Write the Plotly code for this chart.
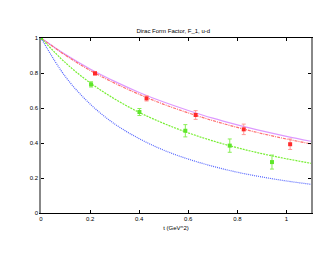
import plotly.graph_objects as go

# Curve samples
t_curve = [0.0, 0.1, 0.2, 0.3, 0.4, 0.5, 0.6, 0.7, 0.8, 0.9, 1.0, 1.1]
magenta_curve = [1.0, 0.905, 0.823, 0.752, 0.689, 0.634, 0.586, 0.542, 0.504, 0.469, 0.438, 0.410]
red_curve = [1.0, 0.901, 0.815, 0.742, 0.678, 0.621, 0.572, 0.528, 0.489, 0.454, 0.423, 0.395]
green_curve = [1.0, 0.858, 0.744, 0.652, 0.575, 0.512, 0.458, 0.412, 0.373, 0.339, 0.310, 0.284]
blue_curve = [1.0, 0.778, 0.623, 0.509, 0.425, 0.359, 0.308, 0.267, 0.233, 0.206, 0.183, 0.164]

# Data points
red_t = [0.0, 0.22, 0.43, 0.63, 0.826, 1.015]
red_f = [1.0, 0.798, 0.655, 0.56, 0.478, 0.393]
red_err = [0.0, 0.01, 0.015, 0.025, 0.03, 0.03]

green_t = [0.0, 0.204, 0.401, 0.588, 0.769, 0.941]
green_f = [1.0, 0.735, 0.577, 0.47, 0.385, 0.291]
green_err = [0.0, 0.015, 0.02, 0.035, 0.038, 0.04]

x_ticks = [0, 0.2, 0.4, 0.6, 0.8, 1]
x_tick_labels = ["0", "0.2", "0.4", "0.6", "0.8", "1"]
y_ticks = [0, 0.2, 0.4, 0.6, 0.8, 1]
y_tick_labels = ["0", "0.2", "0.4", "0.6", "0.8", "1"]

fig = go.Figure()
fig.add_trace(go.Scatter(x=t_curve, y=magenta_curve, mode="lines", line_shape="spline",
                         line=dict(color="#dd99ff", width=1.2)))
fig.add_trace(go.Scatter(x=t_curve, y=red_curve, mode="lines", line_shape="spline",
                         line=dict(color="#ff6f6f", width=1.2, dash="3px,1px,1px,1px")))
fig.add_trace(go.Scatter(x=t_curve, y=green_curve, mode="lines", line_shape="spline",
                         line=dict(color="#77ee33", width=1.2, dash="2px,1px")))
fig.add_trace(go.Scatter(x=t_curve, y=blue_curve, mode="lines", line_shape="spline",
                         line=dict(color="#5566ff", width=1.2, dash="1px,1px")))
fig.add_trace(go.Scatter(x=red_t, y=red_f, mode="markers",
                         marker=dict(symbol="square", size=4, color="#ff2a2a"),
                         error_y=dict(type="data", array=red_err, color="#ff9a9a",
                                      thickness=1, width=2)))
fig.add_trace(go.Scatter(x=green_t, y=green_f, mode="markers",
                         marker=dict(symbol="square", size=4, color="#5ee62a"),
                         error_y=dict(type="data", array=green_err, color="#88ee55",
                                      thickness=1, width=2)))

fig.update_layout(
    width=330, height=255,
    margin=dict(l=41, r=19, t=38, b=42, autoexpand=False),
    paper_bgcolor="white", plot_bgcolor="white",
    showlegend=False,
    font=dict(family="Liberation Sans, Arial, sans-serif", size=6, color="black"),
    title=dict(text="Dirac Form Factor, F_1, u-d", x=0.525, xanchor="center",
               y=1 - 31 / 255, yanchor="middle", font=dict(size=6)),
    xaxis=dict(range=[0, 1.1], tickvals=x_ticks, ticktext=x_tick_labels,
               showgrid=False, zeroline=False, showline=True, linecolor="black",
               linewidth=1, mirror="ticks", ticks="inside", ticklen=3,
               tickcolor="black", tickfont=dict(size=6), automargin=False,
               title=dict(text="t (GeV^2)", font=dict(size=6), standoff=4)),
    yaxis=dict(range=[0, 1], tickvals=y_ticks, ticktext=y_tick_labels,
               showgrid=False, zeroline=False, showline=True, linecolor="#888888",
               linewidth=1.5, mirror="ticks", ticks="inside", ticklen=3,
               tickcolor="black", tickfont=dict(size=6), automargin=False),
)

fig.write_html("out.html", config={"displayModeBar": False},
               post_script="document.body.style.margin='0';")
